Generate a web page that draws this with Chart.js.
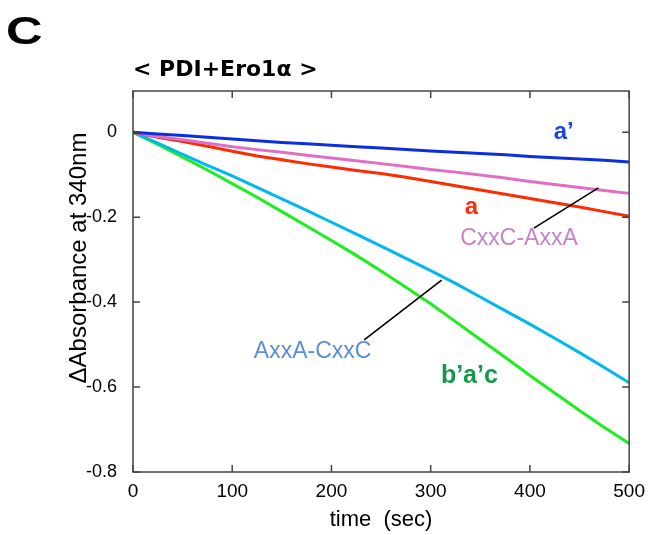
<!DOCTYPE html>
<html>
<head>
<meta charset="utf-8">
<title>PDI+Ero1α</title>
<script src="https://cdn.jsdelivr.net/npm/chart.js@4.4.1/dist/chart.umd.min.js"></script>
<style>
  html, body { margin: 0; padding: 0; background: #fff; }
  #wrap { width: 653px; height: 535px; }
</style>
</head>
<body>
<div id="wrap"><canvas id="myChart" width="653" height="535"></canvas></div>
<script>
// time points (sec)
const times = [0, 25, 50, 75, 100, 125, 150, 175, 200, 225, 250, 275, 300, 325, 350, 375, 400, 425, 450, 475, 500];

// ΔA340 for each PDI variant
const aPrime   = [0, -0.004, -0.008, -0.012, -0.016, -0.020, -0.024, -0.027, -0.031, -0.034, -0.037, -0.041, -0.044, -0.047, -0.050, -0.053, -0.057, -0.060, -0.063, -0.066, -0.070];
const cxxcAxxa = [0, -0.010, -0.018, -0.026, -0.034, -0.041, -0.047, -0.054, -0.061, -0.067, -0.074, -0.081, -0.088, -0.094, -0.101, -0.108, -0.116, -0.123, -0.130, -0.137, -0.144];
const aDomain  = [0, -0.012, -0.022, -0.033, -0.045, -0.056, -0.065, -0.074, -0.082, -0.090, -0.097, -0.106, -0.116, -0.126, -0.136, -0.146, -0.156, -0.166, -0.176, -0.187, -0.198];
const axxaCxxc = [0, -0.026, -0.052, -0.078, -0.103, -0.130, -0.157, -0.184, -0.212, -0.240, -0.268, -0.297, -0.326, -0.356, -0.388, -0.420, -0.452, -0.485, -0.519, -0.554, -0.590];
const bac      = [0, -0.029, -0.059, -0.089, -0.121, -0.153, -0.187, -0.221, -0.255, -0.290, -0.327, -0.365, -0.404, -0.446, -0.488, -0.530, -0.573, -0.614, -0.655, -0.695, -0.733];

// axis ticks
const xTicks = [0, 100, 200, 300, 400, 500];
const yTicks = [0, -0.2, -0.4, -0.6, -0.8];

const SANS = '"Liberation Sans", Arial, Helvetica, sans-serif';

const toPoints = (vals) => times.map((t, i) => ({ x: t, y: vals[i] }));

const series = [
  { data: aPrime,   color: '#0b2fe0' },
  { data: cxxcAxxa, color: '#e06ec8' },
  { data: aDomain,  color: '#ff2a00' },
  { data: axxaCxxc, color: '#00b8f0' },
  { data: bac,      color: '#1cf01c' }
];

// curve labels, placed in data units
const curveLabels = [
  { text: 'a’',        x: 434, y: -0.017, font: 'bold 24px ' + SANS, color: '#1b45e0' },
  { text: 'a',         x: 341, y: -0.193, font: 'bold 24px ' + SANS, color: '#ff2d10' },
  { text: 'CxxC-AxxA', x: 389, y: -0.266, font: '23px ' + SANS,      color: '#c784c4' },
  { text: 'AxxA-CxxC', x: 181, y: -0.532, font: '23px ' + SANS,      color: '#5b8ed9' },
  { text: 'b’a’c',     x: 339, y: -0.591, font: 'bold 25px ' + SANS, color: '#12994a' }
];
const leaders = [
  { x1: 404, y1: -0.226, x2: 469, y2: -0.131 },
  { x1: 233, y1: -0.489, x2: 311, y2: -0.348 }
];

// frame, inward ticks, annotations and headings
const decorations = {
  id: 'decorations',
  afterDatasetsDraw(chart) {
    const { ctx, chartArea: area, scales: { x, y } } = chart;
    ctx.save();
    ctx.strokeStyle = '#444';
    ctx.lineWidth = 1.5;
    ctx.strokeRect(area.left, area.top, area.right - area.left, area.bottom - area.top);

    const len = 7;
    ctx.beginPath();
    xTicks.forEach(v => {
      const px = x.getPixelForValue(v);
      ctx.moveTo(px, area.bottom); ctx.lineTo(px, area.bottom - len);
      ctx.moveTo(px, area.top);    ctx.lineTo(px, area.top + len);
    });
    yTicks.forEach(v => {
      const py = y.getPixelForValue(v);
      ctx.moveTo(area.left, py);  ctx.lineTo(area.left + len, py);
      ctx.moveTo(area.right, py); ctx.lineTo(area.right - len, py);
    });
    ctx.stroke();

    // leader lines
    ctx.strokeStyle = '#000';
    ctx.lineWidth = 1.6;
    ctx.beginPath();
    leaders.forEach(l => {
      ctx.moveTo(x.getPixelForValue(l.x1), y.getPixelForValue(l.y1));
      ctx.lineTo(x.getPixelForValue(l.x2), y.getPixelForValue(l.y2));
    });
    ctx.stroke();

    ctx.textAlign = 'center';
    ctx.textBaseline = 'alphabetic';
    curveLabels.forEach(l => {
      ctx.font = l.font;
      ctx.fillStyle = l.color;
      ctx.fillText(l.text, x.getPixelForValue(l.x), y.getPixelForValue(l.y));
    });
    ctx.restore();
  },
  afterDraw(chart) {
    const { ctx, chartArea: area } = chart;
    ctx.save();
    ctx.fillStyle = '#000';
    ctx.textBaseline = 'alphabetic';

    // panel letter
    ctx.save();
    ctx.translate(6, 44);
    ctx.scale(1.3, 1);
    ctx.font = 'bold 39px ' + SANS;
    ctx.textAlign = 'left';
    ctx.fillText('C', 0, 0);
    ctx.restore();

    // heading
    ctx.font = 'bold 22px "DejaVu Sans", sans-serif';
    ctx.textAlign = 'left';
    ctx.fillText('< PDI+Ero1α >', area.left, 76);

    // y axis title
    ctx.save();
    ctx.translate(86, 258);
    ctx.rotate(-Math.PI / 2);
    ctx.font = '24px ' + SANS;
    ctx.textAlign = 'center';
    ctx.fillText('ΔAbsorbance at 340nm', 0, 0);
    ctx.restore();
    ctx.restore();
  }
};

const ctx = document.getElementById('myChart').getContext('2d');
new Chart(ctx, {
  type: 'line',
  data: {
    datasets: series.map(s => ({
      data: toPoints(s.data),
      borderColor: s.color,
      backgroundColor: s.color,
      borderWidth: 3,
      pointRadius: 0,
      tension: 0,
      fill: false
    }))
  },
  options: {
    responsive: false,
    animation: false,
    layout: { padding: { left: 0, top: 91, right: 21, bottom: 0 } },
    plugins: { legend: { display: false }, tooltip: { enabled: false } },
    scales: {
      x: {
        type: 'linear',
        min: 0,
        max: 500,
        afterBuildTicks: (scale) => { scale.ticks = xTicks.map(v => ({ value: v })); },
        afterFit: (scale) => { scale.height = 63; },
        grid: { display: false, drawTicks: false },
        border: { display: false },
        ticks: { color: '#000', font: { family: SANS, size: 19 }, padding: 8, maxRotation: 0 },
        title: {
          display: true,
          text: 'time  (sec)',
          color: '#000',
          font: { family: SANS, size: 22 },
          padding: { top: 0, bottom: 2 }
        }
      },
      y: {
        type: 'linear',
        min: -0.8,
        max: 0.097,
        afterBuildTicks: (scale) => { scale.ticks = yTicks.map(v => ({ value: v })); },
        afterFit: (scale) => { scale.width = 133; },
        grid: { display: false, drawTicks: false },
        border: { display: false },
        ticks: {
          color: '#000',
          font: { family: SANS, size: 18 },
          padding: 16,
          callback: (v) => (v === 0 ? '0' : Number(v).toFixed(1))
        }
      }
    }
  },
  plugins: [decorations]
});
</script>
</body>
</html>
